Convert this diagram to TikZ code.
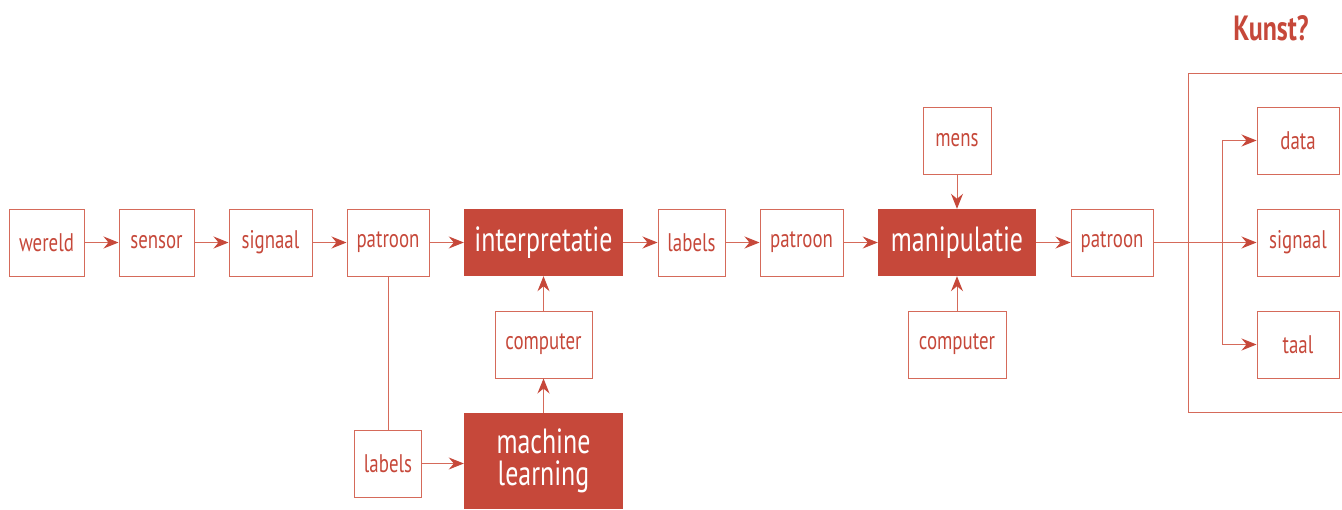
\documentclass[tikz,border=0pt]{standalone}
\usepackage{fontspec}
\setmainfont{PT Sans}[FakeStretch=0.74]
\usetikzlibrary{arrows.meta}
\definecolor{rood}{HTML}{C6483A}
\definecolor{lijn}{HTML}{D56A5A}
\begin{document}
\begin{tikzpicture}[x=1pt,y=-1pt,
  box/.style={draw=lijn,line width=1pt,text=rood,minimum height=67pt,inner sep=0pt,
    font=\fontsize{25.5}{28}\selectfont},
  solidbox/.style={fill=rood,text=white,inner sep=0pt,minimum height=67pt,
    font=\fontsize{35}{33}\selectfont},
  arr/.style={draw=lijn,line width=1pt,-{Stealth[length=15pt,width=12pt,inset=5pt,color=rood]}},
  ln/.style={draw=lijn,line width=1pt}]
\useasboundingbox (0,0) rectangle (1342,509);

% main chain
\node[box,minimum width=75pt] (wereld) at (46.5,242.5) {wereld};
\node[box,minimum width=75pt] (sensor) at (156.5,242.5) {sensor};
\node[box,minimum width=83pt] (signaal) at (270.5,242.5) {signaal};
\node[box,minimum width=82pt] (patroonA) at (388,242.5) {patroon};
\node[solidbox,minimum width=159pt] (interp) at (543.5,242.5) {interpretatie};
\node[box,minimum width=67pt] (labelsA) at (691.5,242.5) {labels};
\node[box,minimum width=83pt] (patroonB) at (801.5,242.5) {patroon};
\node[solidbox,minimum width=158pt] (manip) at (957,242.5) {manipulatie};
\node[box,minimum width=82pt] (patroonC) at (1112,242.5) {patroon};

% inputs
\node[box,minimum width=68pt] (mens) at (957,140.5) {mens};
\node[box,minimum width=98pt] (compR) at (957,344.5) {computer};
\node[box,minimum width=97pt] (compL) at (543.5,344.5) {computer};
\node[solidbox,minimum width=159pt,minimum height=96pt,align=center] (ml) at (543.5,461) {machine\\[-1pt]learning};
\node[box,minimum width=67pt] (labelsB) at (388,463.5) {labels};

% outputs
\node[box,minimum width=82pt] (data) at (1298,140.5) {data};
\node[box,minimum width=82pt] (signaalB) at (1298,242.5) {signaal};
\node[box,minimum width=82pt] (taal) at (1298,344.5) {taal};
\node[text=rood,font=\fontsize{35}{37}\bfseries\selectfont] (kunst) at (1271,28) {Kunst?};

% frame around the outputs
\coordinate (fr1) at (1342,73);
\coordinate (fr2) at (1188,412);
\coordinate (fr3) at (1342,412);
\draw[ln] (fr1) -| (fr2) -- (fr3);

% connectors
\draw[arr] (wereld) -- (sensor);
\draw[arr] (sensor) -- (signaal);
\draw[arr] (signaal) -- (patroonA);
\draw[arr] (patroonA) -- (interp);
\draw[arr] (interp) -- (labelsA);
\draw[arr] (labelsA) -- (patroonB);
\draw[arr] (patroonB) -- (manip);
\draw[arr] (manip) -- (patroonC);
\draw[arr] (mens) -- (manip);
\draw[arr] (compR) -- (manip);
\draw[arr] (compL) -- (interp);
\draw[arr] (ml) -- (compL);
\draw[arr] (labelsB) -- (ml.west |- labelsB);
\draw[ln] (patroonA.south) -- (labelsB.north);
\draw[arr] (patroonC) -- (signaalB);
\coordinate (split) at (1222,242.5);
\draw[arr] (split) |- (data.west);
\draw[arr] (split) |- (taal.west);
\end{tikzpicture}
\end{document}
